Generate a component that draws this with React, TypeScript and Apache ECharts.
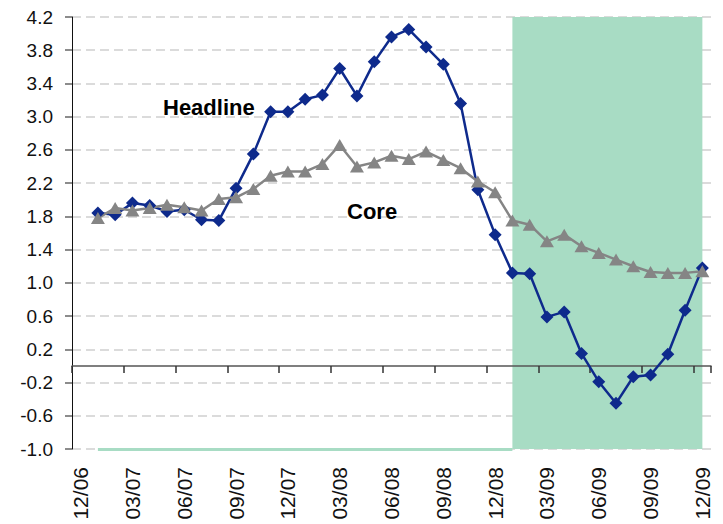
import React, { useEffect, useRef } from "react";
import * as echarts from "echarts";

const months: string[] = [
  "12/06",
  "01/07", "02/07", "03/07", "04/07", "05/07", "06/07", "07/07", "08/07", "09/07", "10/07", "11/07", "12/07",
  "01/08", "02/08", "03/08", "04/08", "05/08", "06/08", "07/08", "08/08", "09/08", "10/08", "11/08", "12/08",
  "01/09", "02/09", "03/09", "04/09", "05/09", "06/09", "07/09", "08/09", "09/09", "10/09", "11/09", "12/09",
];

const headline: (number | null)[] = [
  null,
  1.84, 1.82, 1.96, 1.93, 1.86, 1.88, 1.76, 1.75, 2.14, 2.55, 3.06, 3.06,
  3.21, 3.26, 3.58, 3.25, 3.66, 3.96, 4.05, 3.84, 3.63, 3.16, 2.12, 1.58,
  1.12, 1.11, 0.59, 0.65, 0.15, -0.19, -0.45, -0.13, -0.11, 0.14, 0.67, 1.18,
];

const core: (number | null)[] = [
  null,
  1.78, 1.9, 1.87, 1.9, 1.94, 1.91, 1.87, 2.01, 2.03, 2.13, 2.29, 2.34,
  2.34, 2.43, 2.66, 2.4, 2.45, 2.53, 2.49, 2.58, 2.48, 2.38, 2.22, 2.09,
  1.75, 1.7, 1.5, 1.58, 1.44, 1.36, 1.28, 1.2, 1.13, 1.12, 1.12, 1.14,
];

const yMin = -1.0;
const yMax = 4.2;
const yStep = 0.4;

const recessionPeriod: [string, string] = ["01/09", "12/09"];
const preRecessionPeriod: [string, string] = ["01/07", "01/09"];

const seriesLabels = { headline: "Headline", core: "Core" };

const NAVY = "#0e2a8c";
const GREY = "#858585";
const GREEN = "#a8dcc4";
const FONT = '"Liberation Sans", Arial, sans-serif';

export default function App() {
  const ref = useRef<HTMLDivElement>(null);

  useEffect(() => {
    if (!ref.current) return;
    const chart = echarts.init(ref.current, undefined, { renderer: "svg" });
    chart.setOption({
      animation: false,
      backgroundColor: "#ffffff",
      textStyle: { fontFamily: FONT },
      grid: { left: 72, right: 12, top: 17, bottom: 75, containLabel: false },
      xAxis: [
        {
          type: "category",
          data: months,
          boundaryGap: true,
          position: "bottom",
          axisLine: { show: false, onZero: false },
          axisTick: { show: false },
          splitLine: { show: false },
          axisLabel: {
            interval: 2,
            rotate: 90,
            margin: 18,
            fontSize: 21,
            color: "#111",
            fontFamily: FONT,
          },
        },
        {
          type: "category",
          data: months,
          boundaryGap: true,
          position: "bottom",
          z: 1.5,
          axisLine: { show: true, onZero: true, lineStyle: { color: "#555", width: 1.5 } },
          axisTick: { show: true, interval: 2, length: 7, lineStyle: { color: "#333", width: 1.5 } },
          axisLabel: { show: false },
          splitLine: { show: false },
        },
      ],
      yAxis: {
        type: "value",
        min: yMin,
        max: yMax,
        interval: yStep,
        axisLine: { show: true, onZero: false, lineStyle: { color: "#111", width: 1 } },
        axisTick: { show: true, length: 7, lineStyle: { color: "#666", width: 1.5 } },
        axisLabel: {
          formatter: (v: number) => v.toFixed(1),
          margin: 19,
          fontSize: 19,
          color: "#111",
          fontFamily: FONT,
        },
        splitLine: { show: true, lineStyle: { color: "#cfcfcf", type: [9, 5], width: 1.5 } },
      },
      series: [
        {
          name: seriesLabels.headline,
          type: "line",
          xAxisIndex: 0,
          data: headline,
          clip: false,
          symbol: "diamond",
          symbolSize: 13,
          showAllSymbol: true,
          lineStyle: { color: NAVY, width: 2.5 },
          itemStyle: { color: NAVY },
          markArea: {
            silent: true,
            itemStyle: { color: GREEN },
            data: [[{ xAxis: recessionPeriod[0], yAxis: yMin }, { xAxis: recessionPeriod[1], yAxis: yMax + 0.025 }]],
          },
          markLine: {
            silent: true,
            symbol: "none",
            label: { show: false },
            lineStyle: { color: GREEN, width: 3, type: "solid" },
            data: [[{ xAxis: preRecessionPeriod[0], yAxis: yMin }, { xAxis: preRecessionPeriod[1], yAxis: yMin }]],
          },
        },
        {
          name: seriesLabels.core,
          type: "line",
          xAxisIndex: 0,
          data: core,
          symbol: "triangle",
          symbolSize: [14, 12],
          showAllSymbol: true,
          lineStyle: { color: GREY, width: 2.5 },
          itemStyle: { color: GREY },
        },
      ],
      graphic: [
        {
          type: "text",
          left: 163,
          top: 96,
          z: 100,
          style: { text: seriesLabels.headline, font: `bold 22px ${FONT}`, fill: "#000" },
        },
        {
          type: "text",
          left: 347,
          top: 200,
          z: 100,
          style: { text: seriesLabels.core, font: `bold 22px ${FONT}`, fill: "#000" },
        },
      ],
    });
    return () => chart.dispose();
  }, []);

  return (
    <div
      ref={ref}
      style={{ position: "fixed", left: 0, top: 0, width: 723, height: 524, background: "#fff" }}
    />
  );
}
